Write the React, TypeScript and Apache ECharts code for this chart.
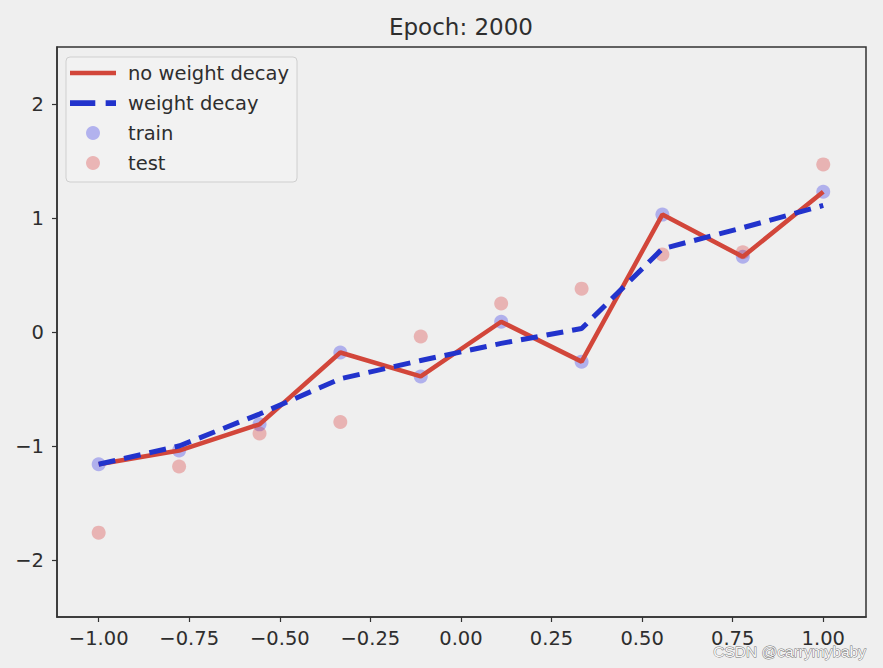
import React, { useEffect, useRef } from "react";
import * as echarts from "echarts";

const xValues = [-1.0, -0.778, -0.556, -0.333, -0.111, 0.111, 0.333, 0.556, 0.778, 1.0];
const trainY = [-1.16, -1.04, -0.81, -0.18, -0.39, 0.09, -0.26, 1.03, 0.66, 1.23];
const testY = [-1.76, -1.18, -0.89, -0.79, -0.04, 0.25, 0.38, 0.68, 0.7, 1.47];
const noDecayY = [-1.16, -1.04, -0.81, -0.18, -0.39, 0.09, -0.26, 1.03, 0.66, 1.23];
const decayY = [-1.16, -1.0, -0.72, -0.41, -0.25, -0.1, 0.03, 0.73, 0.915, 1.11];
const xTicks = [-1.0, -0.75, -0.5, -0.25, 0.0, 0.25, 0.5, 0.75, 1.0];
const yTicks = [-2, -1, 0, 1, 2];
const titleText = "Epoch: 2000";
const seriesNames = ["no weight decay", "weight decay", "train", "test"];

const pair = (ys: number[]) => xValues.map((x, i) => [x, ys[i]]);
const minus = (s: string) => s.replace("-", "\u2212");

export default function App() {
  const ref = useRef<HTMLDivElement>(null);
  useEffect(() => {
    if (!ref.current) return;
    const chart = echarts.init(ref.current, null, { renderer: "svg" });
    const font = "DejaVu Sans";
    const textColor = "#2e2e2e";
    const red = "#d2463a";
    const blue = "#2233cc";
    chart.setOption({
      animation: false,
      backgroundColor: "#efefef",
      textStyle: { fontFamily: font },
      grid: {
        left: 57,
        right: 17,
        top: 47,
        bottom: 51,
        show: true,
        borderColor: "#333",
        borderWidth: 1.5,
        backgroundColor: "#efefef",
      },
      xAxis: {
        type: "value",
        min: -1.115,
        max: 1.118,
        splitLine: { show: false },
        axisLine: { show: true, onZero: false, lineStyle: { color: "#333", width: 1.5 } },
        axisTick: {
          show: true,
          length: 5,
          customValues: xTicks,
          lineStyle: { color: "#333", width: 1.2 },
        },
        axisLabel: {
          customValues: xTicks,
          margin: 11,
          color: textColor,
          fontSize: 19.5,
          fontFamily: font,
          formatter: (v: number) => minus(v.toFixed(2)),
        },
      },
      yAxis: {
        type: "value",
        min: -2.5,
        max: 2.5,
        splitLine: { show: false },
        axisLine: { show: true, onZero: false, lineStyle: { color: "#333", width: 1.5 } },
        axisTick: {
          show: true,
          length: 5,
          customValues: yTicks,
          lineStyle: { color: "#333", width: 1.2 },
        },
        axisLabel: {
          customValues: yTicks,
          margin: 13,
          color: textColor,
          fontSize: 19.5,
          fontFamily: font,
          formatter: (v: number) => minus(String(v)),
        },
      },
      legend: {
        orient: "vertical",
        left: 66,
        top: 57,
        data: [
          { name: seriesNames[0], icon: "path://M0,0H46V4.5H0Z", itemStyle: { color: red } },
          {
            name: seriesNames[1],
            icon: "path://M0,0H22V5H0Z M31,0H40V5H31Z",
            itemStyle: { color: blue },
          },
          { name: seriesNames[2] },
          { name: seriesNames[3] },
        ],
        itemWidth: 46,
        itemHeight: 14,
        itemGap: 10,
        padding: [6, 8, 9, 4],
        backgroundColor: "rgba(242,242,242,0.85)",
        borderColor: "#cfcfcf",
        borderWidth: 1,
        borderRadius: 4,
        textStyle: {
          fontSize: 19.5,
          fontFamily: font,
          color: textColor,
          lineHeight: 20,
          padding: [0, 0, 0, 7],
        },
      },
      series: [
        {
          name: seriesNames[2],
          type: "scatter",
          data: pair(trainY),
          symbolSize: 14,
          z: 1,
          itemStyle: { color: "rgba(0,0,230,0.33)" },
        },
        {
          name: seriesNames[3],
          type: "scatter",
          data: pair(testY),
          symbolSize: 14,
          z: 1,
          itemStyle: { color: "rgba(215,30,30,0.36)" },
        },
        {
          name: seriesNames[0],
          type: "line",
          data: pair(noDecayY),
          symbol: "none",
          z: 3,
          itemStyle: { color: red },
          lineStyle: { color: red, width: 4.5 },
        },
        {
          name: seriesNames[1],
          type: "line",
          data: pair(decayY),
          symbol: "none",
          z: 4,
          itemStyle: { color: blue },
          lineStyle: { color: blue, width: 5, type: [17, 9] },
        },
      ],
      graphic: [
        {
          type: "text",
          x: 461,
          y: 27,
          style: {
            text: titleText,
            fill: textColor,
            font: `23px "${font}"`,
            textAlign: "center",
            textVerticalAlign: "middle",
          },
        },
        {
          type: "text",
          x: 866,
          y: 651,
          z: 100,
          style: {
            text: "CSDN @carrymybaby",
            fill: "#f6f6f6",
            stroke: "#6e6e6e",
            lineWidth: 0.9,
            font: `15.5px "Liberation Sans Narrow", "Liberation Sans", sans-serif`,
            textAlign: "right",
            textVerticalAlign: "middle",
          },
        },
      ],
    });
    return () => chart.dispose();
  }, []);
  return <div ref={ref} style={{ width: 883, height: 668, position: "fixed", left: 0, top: 0 }} />;
}
